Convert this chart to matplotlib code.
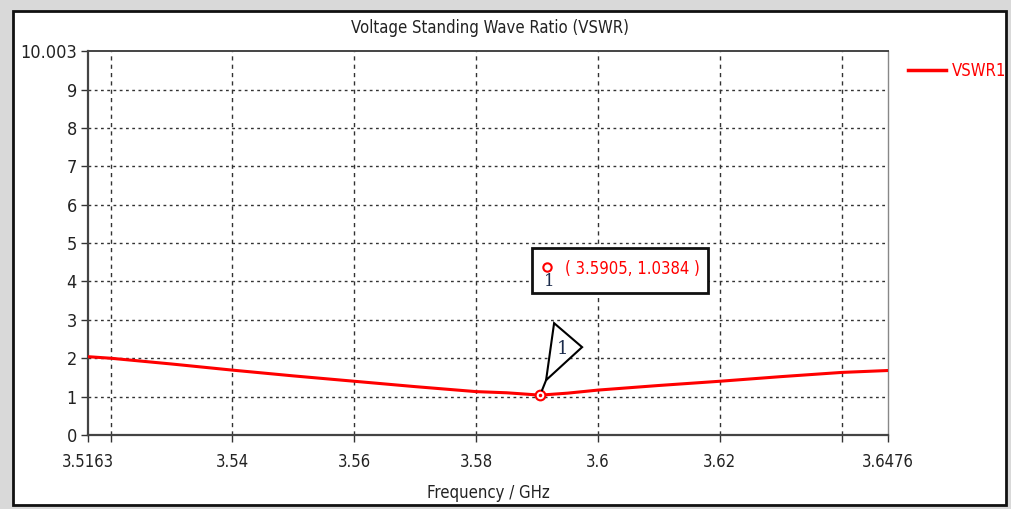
import matplotlib
matplotlib.use("Agg")
import matplotlib.pyplot as plt
import matplotlib.transforms as mtransforms
from matplotlib.patches import Rectangle, Polygon
from matplotlib.lines import Line2D
from matplotlib import font_manager

# ---- data ----
freq = [3.5163, 3.52, 3.53, 3.54, 3.55, 3.56, 3.57, 3.58, 3.585, 3.5905,
        3.595, 3.60, 3.61, 3.62, 3.63, 3.64, 3.6476]
vswr = [2.04, 2.00, 1.85, 1.69, 1.54, 1.40, 1.26, 1.13, 1.10, 1.0384,
        1.09, 1.17, 1.29, 1.40, 1.52, 1.63, 1.68]
marker_f = 3.5905
marker_v = 1.0384
xtick_vals = [3.5163, 3.54, 3.56, 3.58, 3.6, 3.62, 3.6476]
xtick_labels = ["3.5163", "3.54", "3.56", "3.58", "3.6", "3.62", "3.6476"]
xgrid_vals = [3.52, 3.54, 3.56, 3.58, 3.60, 3.62, 3.64]
ytick_vals = [0, 1, 2, 3, 4, 5, 6, 7, 8, 9, 10.003]
ytick_labels = ["0", "1", "2", "3", "4", "5", "6", "7", "8", "9", "10.003"]
series_name = "VSWR1"
title = "Voltage Standing Wave Ratio (VSWR)"
xlabel = "Frequency / GHz"

# pick a condensed font if available
names = {f.name for f in font_manager.fontManager.ttflist}
cond = None
for f in font_manager.fontManager.ttflist:
    if "Condensed" in f.fname and "DejaVuSans" in f.fname.replace(" ", "") and "Bold" not in f.fname and "Oblique" not in f.fname:
        cond = f.fname
        break
if cond is not None:
    FP = dict(fontproperties=font_manager.FontProperties(fname=cond))
else:
    FP = dict(family=["Liberation Sans Narrow", "DejaVu Sans"])

def tp(size, **kw):
    d = {}
    if "fontproperties" in FP:
        p = FP["fontproperties"].copy()
        p.set_size(size)
        d["fontproperties"] = p
    else:
        d["family"] = FP["family"]
        d["fontsize"] = size
    d.update(kw)
    return d

W, H = 1012, 509
fig = plt.figure(figsize=(W / 100, H / 100), dpi=100)
fig.patch.set_facecolor("white")

def fx(px):
    return px / W

def fy(py):
    return 1 - py / H

# screenshot-like border
fig.patches.append(Rectangle((0, 0), 1, 1, transform=fig.transFigure,
                             facecolor="#d9d9d9", edgecolor="none", zorder=-10))
fig.patches.append(Rectangle((fx(13), fy(505)), fx(1006) - fx(13), fy(11) - fy(505),
                             transform=fig.transFigure, facecolor="white",
                             edgecolor="#111111", linewidth=2, zorder=-9))

ax = fig.add_axes([fx(88), fy(435), fx(888) - fx(88), fy(51) - fy(435)])
ax.set_xlim(freq[0], freq[-1])
ax.set_ylim(0, 10.003)

ax.plot(freq, vswr, color="#ff0000", linewidth=2.2, zorder=3)
ax.plot([marker_f], [marker_v], marker="o", markersize=7, markerfacecolor="white",
        markeredgecolor="#ff0000", markeredgewidth=1.5, zorder=4)
ax.plot([marker_f], [marker_v], marker="o", markersize=1.5, color="#ff0000", zorder=5)

# grid
for xv in xgrid_vals:
    ax.axvline(xv, color="#333333", linewidth=1.0, linestyle=(0, (3, 3)), zorder=1)
for yv in ytick_vals[1:-1]:
    ax.axhline(yv, color="#333333", linewidth=1.0, linestyle=(0, (2, 2.5)), zorder=1)

ax.set_xticks(xtick_vals)
ax.set_xticklabels(xtick_labels)
ax.set_yticks(ytick_vals)
ax.set_yticklabels(ytick_labels)
for lab in ax.get_xticklabels():
    lab.update(tp(12, color="#222222", weight="bold" if False else "normal"))
for lab in ax.get_yticklabels():
    lab.update(tp(13, color="#222222"))
ax.xaxis.set_minor_locator(matplotlib.ticker.FixedLocator([3.52, 3.64]))
ax.tick_params(axis="x", which="both", direction="out", length=5, width=1, color="#333333", pad=8)
ax.tick_params(axis="y", direction="out", length=5, width=1, color="#333333", pad=3)

for s in ["left", "bottom"]:
    ax.spines[s].set_color("#444444")
    ax.spines[s].set_linewidth(1.6)
ax.spines["top"].set_color("#444444")
ax.spines["top"].set_linewidth(1.4)
ax.spines["right"].set_color("#888888")
ax.spines["right"].set_linewidth(1.0)

fig.text(fx(490), fy(28), title, ha="center", va="center", **tp(12, color="#222222"))
fig.text(fx(488), fy(493), xlabel, ha="center", va="center", **tp(12, color="#222222"))

# legend
fig.lines.append(Line2D([fx(908), fx(946)], [fy(70), fy(70)], transform=fig.transFigure,
                        color="#ff0000", linewidth=2.5))
fig.text(fx(952), fy(71), series_name, ha="left", va="center", **tp(12, color="#ff0000"))

# marker triangle, positioned relative to the data point
mx, my = ax.transData.transform((marker_f, marker_v))
off = mtransforms.Affine2D().translate(mx, my)
tri = Polygon([(14, 72), (42, 48), (6, 15)], closed=True, facecolor="white",
              edgecolor="black", linewidth=1.5, transform=off, zorder=6)
ax.add_patch(tri)
ax.add_line(Line2D([6, 2], [15, 5], color="black", linewidth=1.5, transform=off, zorder=6))
ax.text(22, 46, "1", transform=off, fontsize=13, family="DejaVu Serif",
        color="#1a2a4a", ha="center", va="center", zorder=7)

# marker readout box
fig.patches.append(Rectangle((fx(532), fy(293)), fx(708) - fx(532), fy(248) - fy(293),
                             transform=fig.transFigure, facecolor="white",
                             edgecolor="#111111", linewidth=2, zorder=10))
fig.lines.append(Line2D([fx(547)], [fy(267)], transform=fig.transFigure, marker="o",
                        markersize=6, markerfacecolor="white", markeredgecolor="#ff0000",
                        markeredgewidth=1.5, zorder=11))
fig.text(fx(549), fy(281), "1", fontsize=12, family="DejaVu Serif", color="#1a2a4a",
         ha="center", va="center", zorder=11)
fig.text(fx(632), fy(269), f"( {marker_f}, {marker_v} )", ha="center", va="center",
         zorder=11, **tp(12, color="#ff0000"))

fig.savefig("out.png", dpi=100)
